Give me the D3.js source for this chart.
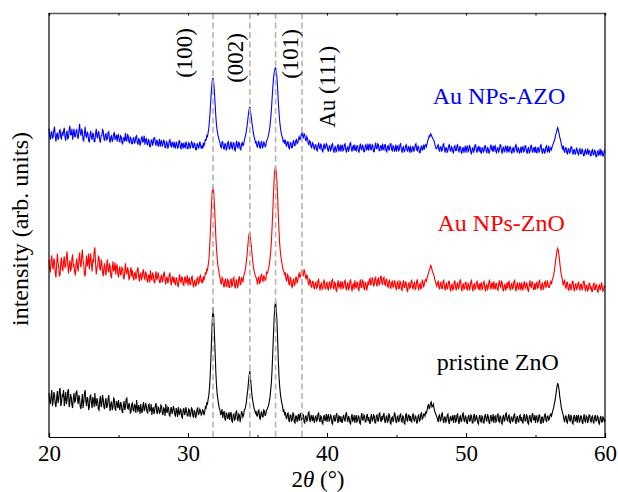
<!DOCTYPE html>
<html>
<head>
<meta charset="utf-8">
<script src="https://cdn.jsdelivr.net/npm/d3@7"></script>
<style>
  html, body { margin: 0; padding: 0; background: #fff; }
  svg { display: block; }
  svg text { font-family: "Liberation Serif", "Times New Roman", serif; }
</style>
</head>
<body>
<svg id="chart" width="618" height="492"></svg>
<script>
const serif = "'Liberation Serif', 'Times New Roman', serif";

// 2theta sampling of the scans (degrees)
const thetaStart = 20;
const thetaStep = 0.05;

// intensities, one row per degree (arb. units)
const pristineZnO = [
  44,36,33,41,47,31,36,45,42,33,30,39,46,34,38,47,49,31,35,42,
  41,47,31,38,45,33,37,46,48,30,34,43,40,32,29,39,44,35,36,45,
  46,37,33,42,39,30,28,36,43,29,35,44,47,36,31,40,38,27,30,41,
  42,34,29,40,37,30,44,35,31,39,36,28,27,37,41,30,33,42,38,30,
  28,36,39,29,31,38,42,32,26,34,35,27,30,39,38,28,27,36,34,29,
  37,30,27,35,33,26,24,32,36,27,30,38,39,29,28,34,32,24,25,33,
  34,27,26,33,31,24,37,30,25,32,29,23,33,27,24,31,35,26,28,34,
  31,25,24,32,33,26,27,33,22,28,30,23,26,32,34,25,23,30,29,24,
  25,32,31,24,22,29,28,21,33,26,24,30,29,22,21,28,30,23,26,31,
  28,22,21,29,26,20,30,24,22,28,27,20,19,27,29,22,24,30,26,21,
  21,28,27,20,23,29,28,21,20,27,25,19,22,28,29,22,24,28,26,22,
  23,28,26,22,25,30,29,34,33,38,42,50,62,80,100,118,130,120,104,85,
  66,52,43,38,33,29,27,22,24,28,19,24,26,18,17,24,23,18,20,25,
  17,23,25,16,15,22,23,17,18,25,26,18,16,23,22,15,19,26,24,20,
  22,27,28,31,35,42,47,55,62,66,58,50,42,37,33,29,27,24,26,21,
  21,26,27,19,18,24,25,20,20,27,26,21,23,27,28,30,32,36,40,47,
  55,68,85,103,120,131,136,128,116,97,76,60,50,43,38,34,31,26,27,23,
  25,20,18,23,24,17,15,22,22,16,17,24,23,15,14,21,21,15,19,23,
  16,22,24,17,18,23,22,15,14,21,21,16,17,24,25,18,15,22,20,16,
  22,17,14,20,21,16,17,23,24,17,15,21,20,14,13,20,22,16,18,23,
  15,20,23,16,17,22,21,14,13,19,22,16,16,22,24,17,14,21,20,15,
  21,16,14,20,22,17,16,23,25,18,15,21,19,14,13,20,23,16,17,22,
  14,19,22,15,16,21,20,14,13,20,24,17,17,22,21,15,15,21,23,16,
  20,15,13,20,23,16,17,22,21,14,14,21,22,16,16,23,24,17,15,21,
  17,22,24,16,14,20,21,15,16,23,22,14,13,19,20,15,18,24,23,16,
  14,20,21,15,17,22,23,16,15,21,20,14,13,21,24,17,16,22,22,16,
  21,16,15,22,23,17,16,21,20,14,14,21,22,16,17,23,24,18,19,23,
  23,21,25,24,27,31,33,28,30,34,35,30,31,33,29,26,24,22,20,18,
  15,21,22,16,17,23,24,17,14,20,20,15,16,22,23,16,13,19,21,16,
  18,22,14,20,22,15,16,22,23,16,13,20,21,15,17,23,24,17,15,21,
  20,15,13,20,22,16,16,22,21,14,14,21,23,16,17,22,19,14,13,20,
  22,16,15,21,20,14,14,21,23,17,16,22,21,15,13,20,22,16,17,23,
  14,20,21,15,16,22,23,16,15,21,20,14,13,20,22,16,17,23,24,17,
  16,21,22,15,14,20,20,15,17,22,23,16,13,19,21,15,15,21,22,16,
  20,15,14,21,23,16,16,22,21,14,13,20,22,16,15,22,24,17,17,22,
  14,20,21,15,16,22,22,15,13,20,20,14,17,22,23,17,15,21,21,17,
  18,22,23,21,24,27,29,33,36,41,46,51,54,51,47,40,36,30,27,24,
  22,17,15,21,21,15,14,20,23,17,16,22,20,14,13,20,22,16,17,22,
  14,20,22,15,16,21,21,15,13,19,23,16,15,21,20,14,17,22,22,16,
  15,20,21,15,14,20,22,16,16,21,20,14,13,19,21,15,15,20,19,15,
  18
];

const auZnO = [
  178,169,165,177,182,171,168,179,176,164,160,172,184,175,170,161,163,176,180,168,
  167,176,181,170,171,180,186,174,164,172,177,166,169,179,183,171,172,165,162,174,
  179,170,166,178,185,174,170,181,188,176,173,163,161,172,182,171,175,184,168,177,
  184,173,166,177,176,186,190,174,163,170,171,181,180,169,167,178,175,165,161,170,
  174,165,162,172,178,167,165,174,171,161,160,169,176,166,168,175,163,171,173,164,
  160,168,171,162,164,170,169,160,158,166,174,165,163,170,167,158,159,167,170,161,
  167,160,157,164,165,158,161,168,170,162,156,163,164,157,160,166,168,159,158,165,
  164,157,155,162,162,155,167,160,157,164,163,156,154,161,166,158,159,165,161,155,
  155,161,162,155,158,164,165,157,153,160,160,154,157,163,164,156,152,159,161,155,
  160,154,153,160,158,152,151,158,163,156,155,161,159,153,152,159,161,154,156,162,
  152,158,159,152,154,160,161,154,150,156,157,151,153,159,160,153,155,161,162,155,
  158,154,161,157,160,165,163,168,167,172,177,188,202,220,236,247,251,245,233,218,
  201,189,179,172,168,163,160,155,153,160,159,152,150,157,158,151,151,158,157,150,
  150,157,159,151,152,159,160,152,149,156,158,150,151,159,161,153,153,160,158,155,
  161,163,166,170,176,183,191,199,204,205,198,192,184,177,171,167,164,161,160,157,
  153,159,161,154,155,162,163,157,156,162,160,157,158,165,164,166,169,173,179,186,
  196,210,226,243,259,268,271,265,256,240,221,206,193,185,179,175,171,167,166,162,
  165,158,156,163,162,154,152,160,159,151,150,157,158,152,153,160,160,154,157,162,
  164,160,161,166,167,163,162,168,166,160,158,163,160,154,152,158,157,151,150,156,
  156,150,148,154,155,149,150,157,158,151,147,153,154,148,149,156,157,150,148,154,
  155,149,147,154,156,149,150,157,158,150,148,155,154,147,146,153,157,150,151,156,
  148,154,156,149,150,156,157,150,147,153,155,148,149,156,158,151,146,152,154,148,
  157,151,149,155,155,148,147,154,158,150,150,157,156,149,148,155,154,147,150,156,
  152,158,159,152,154,160,158,151,153,159,160,153,151,158,159,152,154,161,161,154,
  153,159,160,153,152,158,158,151,150,156,157,150,149,155,156,150,151,157,155,149,
  148,155,156,149,149,156,155,148,147,154,157,150,150,156,154,147,146,153,155,149,
  150,156,157,150,148,154,155,148,149,156,158,151,147,153,154,148,150,157,156,150,
  153,157,158,156,159,162,164,167,168,172,171,168,165,164,162,158,156,153,151,155,
  156,150,148,154,155,149,149,156,157,150,147,153,154,148,150,156,156,149,146,152,
  153,147,149,155,157,150,147,153,155,148,150,156,158,151,146,152,154,148,149,155,
  155,149,147,154,153,147,150,156,157,150,146,152,154,148,149,155,156,150,148,154,
  147,153,155,148,149,155,156,150,146,152,153,147,150,156,157,150,148,154,154,148,
  156,150,148,154,154,148,147,153,157,151,150,156,155,148,146,152,153,147,149,155,
  149,155,156,149,147,153,154,148,150,156,157,150,146,152,155,149,148,154,153,147,
  155,149,147,153,156,150,149,155,153,147,146,152,157,151,150,156,154,148,148,154,
  148,154,155,149,150,156,157,150,147,153,154,148,149,155,156,150,151,157,153,150,
  150,154,156,153,157,159,162,166,171,177,182,187,189,186,181,174,168,163,160,156,
  152,156,157,150,149,155,155,148,147,153,153,147,150,156,156,149,146,152,154,148,
  149,154,155,149,147,153,153,147,150,156,156,150,146,152,152,146,148,154,154,148,
  151,146,146,153,154,148,148,153,152,146,145,151,153,147,149,155,151,146,147,152,
  150
];

const auAZO = [
  309,302,298,305,306,299,301,308,311,302,296,303,305,298,300,307,308,300,299,306,
  302,307,310,301,297,304,307,299,300,308,312,303,303,309,298,304,309,301,301,307,
  308,301,299,307,314,305,302,309,306,298,297,305,311,302,300,306,304,297,296,303,
  307,300,298,305,303,296,296,304,309,301,300,306,305,297,295,302,302,308,307,299,
  297,303,304,298,299,305,306,298,295,301,302,296,298,304,305,298,300,303,296,302,
  303,297,296,302,301,295,294,300,300,296,305,298,297,303,302,296,295,301,299,294,
  294,299,300,294,296,301,302,295,293,299,298,292,295,300,301,295,297,302,293,298,
  299,294,293,298,297,291,291,297,298,292,295,300,300,294,292,298,296,291,294,299,
  291,296,297,291,293,298,296,290,290,296,295,289,292,297,298,292,291,296,294,290,
  296,291,290,296,294,289,291,297,297,290,289,295,293,289,295,291,290,296,294,289,
  289,295,294,289,291,296,295,290,290,295,293,288,288,294,294,289,291,296,293,289,
  292,289,295,292,294,299,297,302,301,305,310,318,328,340,350,358,360,355,346,334,
  322,313,307,303,300,297,295,291,290,296,296,290,288,294,294,288,289,295,296,290,
  288,294,296,290,289,295,295,288,287,293,297,291,290,296,294,289,288,294,295,292,
  293,297,300,303,307,312,318,324,329,331,326,321,315,310,305,301,299,295,296,292,
  290,295,297,291,289,295,296,290,291,296,294,291,292,297,298,300,303,307,312,319,
  328,339,350,359,365,369,370,366,360,349,335,325,316,310,305,302,300,296,297,294,
  298,293,291,296,296,290,289,295,295,290,290,296,297,292,292,297,298,294,295,299,
  301,298,299,303,305,301,300,304,303,298,297,301,299,294,293,297,296,291,290,295,
  294,290,288,293,293,288,287,292,295,290,289,294,292,287,286,291,294,289,290,294,
  293,288,286,291,292,287,288,293,294,288,285,290,291,286,287,292,293,287,288,293,
  286,291,293,287,288,293,294,288,285,290,291,286,289,294,295,289,286,291,292,287,
  293,288,287,292,292,287,285,291,294,289,288,293,291,286,286,292,293,288,289,294,
  287,292,294,288,288,293,292,286,286,291,295,289,289,294,293,287,287,292,292,287,
  294,289,288,293,293,287,286,291,292,287,289,294,294,288,287,292,291,286,288,293,
  286,291,292,287,288,293,294,288,285,290,291,286,287,292,293,288,286,291,290,285,
  292,287,286,291,291,286,288,293,294,288,287,292,290,285,285,290,292,287,289,293,
  288,292,293,291,294,297,299,302,301,304,303,301,300,298,297,294,291,289,289,292,
  293,288,286,291,291,286,288,293,294,288,285,290,290,285,287,292,293,288,286,291,
  290,286,285,291,292,287,287,292,293,287,286,291,291,286,284,290,290,285,288,292,
  285,290,292,286,287,292,291,285,284,289,290,285,288,293,293,287,285,290,291,286,
  291,286,284,290,290,285,287,292,292,286,285,290,289,284,286,291,293,288,287,292,
  286,291,292,286,285,290,290,285,288,293,293,287,284,289,291,286,287,292,290,285,
  292,287,286,291,291,286,284,289,290,285,287,292,293,287,285,290,289,284,286,291,
  285,290,291,286,287,292,292,286,284,289,290,285,286,291,293,287,285,290,290,285,
  291,286,285,290,290,285,287,292,293,287,284,289,289,284,286,291,292,286,287,292,
  285,289,290,288,291,293,295,297,299,303,305,308,310,307,304,300,298,294,291,288,
  292,287,285,290,290,285,284,289,289,284,286,291,291,286,283,288,288,283,285,290,
  288,284,283,288,289,284,284,289,287,282,282,287,288,283,285,289,283,287,287,282,
  282,287,288,283,283,288,286,281,281,286,287,282,284,289,282,287,286,281,283,287,
  285
];

const seriesNames = ["pristine ZnO", "Au NPs-ZnO", "Au NPs-AZO"];
const seriesColors = ["#000000", "#ff0000", "#0000ff"];
// where each name starts: [2theta, intensity at baseline]
const seriesLabelPos = [[47.9, 67], [47.95, 206], [47.6, 334]];

// reflections marked with dashed lines
const peakPositions = [31.8, 34.45, 36.3, 38.2];
const peakLabels = ["(100)", "(002)", "(101)", "Au (111)"];
// label anchor: [2theta of baseline, intensity of text centre]
const peakLabelPos = [[30.3, 385], [33.95, 380], [37.9, 384], [40.55, 351]];

const xTicks = [20, 30, 40, 50, 60];
const xMinorTicks = [25, 35, 45, 55];

const svg = d3.select("#chart");
const margin = { left: 49, right: 13, top: 13, bottom: 55 };
const width = 618, height = 492;

const x = d3.scaleLinear().domain([20, 60]).range([margin.left, width - margin.right]);
const y = d3.scaleLinear().domain([0, 425]).range([height - margin.bottom, margin.top]);

// traces
const line = d3.line()
  .x((d, i) => x(thetaStart + i * thetaStep))
  .y(d => y(d));

const seriesValues = [pristineZnO, auZnO, auAZO];
seriesValues.forEach((vals, k) => {
  svg.append("path")
    .datum(vals)
    .attr("fill", "none")
    .attr("stroke", seriesColors[k])
    .attr("stroke-width", 1.1)
    .attr("d", line);
});

// dashed reference lines
svg.selectAll(".peak")
  .data(peakPositions)
  .enter().append("line")
  .attr("x1", d => x(d)).attr("x2", d => x(d))
  .attr("y1", y.range()[1]).attr("y2", y.range()[0])
  .attr("stroke", "#b4b4b4")
  .attr("stroke-width", 1.6)
  .attr("stroke-dasharray", "6,3.5");

// peak labels, rotated
svg.selectAll(".peak-label")
  .data(peakLabelPos)
  .enter().append("text")
  .attr("transform", d => `translate(${x(d[0])}, ${y(d[1])}) rotate(-90)`)
  .attr("text-anchor", "middle")
  .attr("font-family", serif)
  .attr("font-size", 23)
  .attr("fill", "#000")
  .text((d, i) => peakLabels[i]);

// series names
seriesNames.forEach((name, k) => {
  svg.append("text")
    .attr("x", x(seriesLabelPos[k][0]))
    .attr("y", y(seriesLabelPos[k][1]))
    .attr("font-family", serif)
    .attr("font-size", 24)
    .attr("fill", seriesColors[k])
    .text(name);
});

// frame
const xb = d3.axisBottom(x).tickValues(xTicks).tickSize(-4).tickPadding(8).tickFormat(d3.format("d"));
const gx = svg.append("g")
  .attr("transform", `translate(0, ${y.range()[0]})`)
  .call(xb);
gx.attr("font-family", serif);
gx.select(".domain").attr("stroke", "#000").attr("stroke-width", 1.2);
gx.selectAll("text").attr("font-size", 23).attr("font-family", serif).attr("fill", "#000");

svg.append("g")
  .attr("transform", `translate(0, ${y.range()[0]})`)
  .call(d3.axisBottom(x).tickValues(xMinorTicks).tickSize(-2).tickFormat(""))
  .select(".domain").remove();

const gt = svg.append("g")
  .attr("transform", `translate(0, ${y.range()[1]})`)
  .call(d3.axisTop(x).tickValues(xTicks.concat(xMinorTicks)).tickSize(-2.5).tickFormat(""));
gt.select(".domain").attr("stroke", "#555").attr("stroke-width", 1.6);

svg.append("line")
  .attr("x1", x.range()[0]).attr("x2", x.range()[0])
  .attr("y1", y.range()[1]).attr("y2", y.range()[0])
  .attr("stroke", "#000").attr("stroke-width", 1.2);
svg.append("line")
  .attr("x1", x.range()[1]).attr("x2", x.range()[1])
  .attr("y1", y.range()[1]).attr("y2", y.range()[0])
  .attr("stroke", "#000").attr("stroke-width", 1.2);

// axis titles
const xt = svg.append("text")
  .attr("x", 318).attr("y", 487)
  .attr("text-anchor", "middle")
  .attr("font-family", serif)
  .attr("font-size", 23);
xt.append("tspan").text("2");
xt.append("tspan").attr("font-style", "italic").text("θ");
xt.append("tspan").text(" (°)");

svg.append("text")
  .attr("transform", `translate(28, ${(y.range()[0] + y.range()[1]) / 2 + 4}) rotate(-90)`)
  .attr("text-anchor", "middle")
  .attr("font-family", serif)
  .attr("font-size", 24)
  .text("intensity (arb. units)");
</script>
</body>
</html>
